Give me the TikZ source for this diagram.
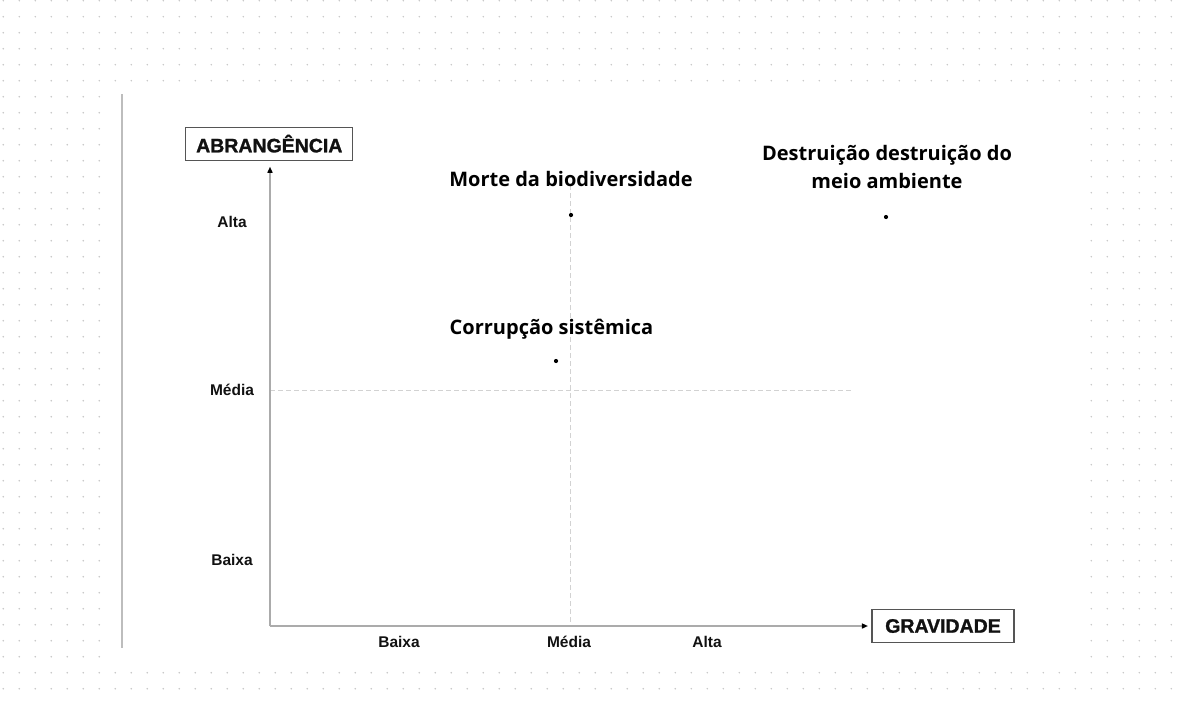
\documentclass[tikz,border=0pt]{standalone}
\usepackage{fontspec}
\setmainfont{Liberation Sans}
\newfontfamily\labfont{Open Sans}
\newfontfamily\boxfont{Liberation Sans Bold}[FakeBold=1.2]
\newfontfamily\tickfont{Liberation Sans Bold}
\usetikzlibrary{arrows.meta}
\definecolor{dotgray}{HTML}{C4C4C4}
\definecolor{axisgray}{HTML}{ABABAB}
\definecolor{dashgray}{HTML}{D2D2D2}
\definecolor{panelline}{HTML}{BDBDBD}
\definecolor{boxline}{HTML}{555555}
\definecolor{txt}{HTML}{111111}
\tikzset{
  axisbox/.style={draw=boxline, line width=1.1pt, inner xsep=8pt, inner ysep=6pt, minimum width=#1, minimum height=33pt, font=\boxfont\fontsize{19.5}{22}\selectfont, text=txt},
  tick/.style={font=\tickfont\fontsize{15.5}{17}\selectfont, text=txt, inner sep=0pt},
  pointlabel/.style={font=\labfont\fontsize{20}{28}\selectfont, text=black, inner sep=0pt, align=center},
  axisline/.style={draw=axisgray, line width=1.4pt, -{Triangle[length=6pt,width=5pt,color=black]}},
  guide/.style={draw=dashgray, line width=1pt, dash pattern=on 5pt off 3pt},
  marker/.style={circle, fill=black, inner sep=0pt, minimum size=4.2pt}
}
\begin{document}
\begin{tikzpicture}[x=1pt,y=-1pt]
\useasboundingbox (0,0) rectangle (1185,704);
% dotted background
\foreach \i in {0,...,73}{
  \foreach \j in {0,...,43}{
    \fill[dotgray] (3.3+16*\i,0.7+16*\j) circle (0.85pt);
  }
}
% white panel
\fill[white] (112,88) rectangle (1082,665);
% left panel line
\draw[panelline, line width=2pt] (122,94) -- (122,648);
% guides
\coordinate (vtop) at (570,185);
\coordinate (vbot) at (570,626);
\coordinate (hleft) at (270,390);
\coordinate (hright) at (853,390);
\draw[guide] (vtop) -- (vbot);
\draw[guide] (hleft) -- (hright);
% axis boxes
\node[axisbox=167pt] (abr) at (269.3,143.7) {ABRANGÊNCIA};
\node[axisbox=142pt] (grav) at (943,626) {GRAVIDADE};
\coordinate (O) at (270,626);
\draw[axisline, shorten >=6pt] (O) -- (abr.south -| O);
\draw[axisline, shorten >=3.5pt] (O) -- (grav.west);
% tick labels
\node[tick] (yA) at (232,222) {Alta};
\node[tick] (yM) at (232,390) {Média};
\node[tick] (yB) at (232,560) {Baixa};
\node[tick] (xB) at (399,642) {Baixa};
\node[tick] (xM) at (569,642) {Média};
\node[tick] (xA) at (707,642) {Alta};
% points
\node[pointlabel] (l1) at (571,178.5) {\textbf{Morte da biodiversidade}};
\node[marker] (p1) at (571,215) {};
\node[pointlabel] (l2) at (551.5,329.5) {\textbf{Corrupção sistêmica}};
\node[marker] (p2) at (556,361) {};
\node[pointlabel] (l3) at (887,167) {\textbf{Destruição destruição do}\\\textbf{meio ambiente}};
\node[marker] (p3) at (886,217) {};
\end{tikzpicture}
\end{document}
